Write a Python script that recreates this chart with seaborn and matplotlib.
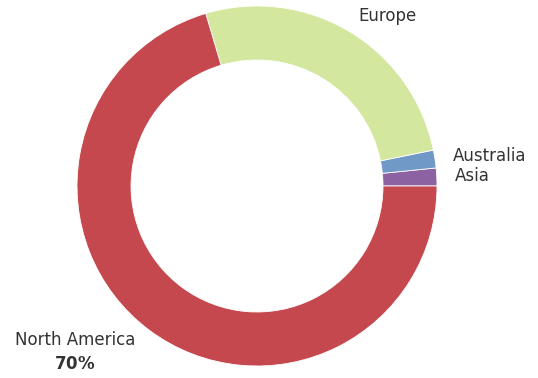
import matplotlib
matplotlib.use("Agg")
import matplotlib.pyplot as plt
import seaborn as sns

# Share of visitors by region
regions = ["Asia", "Australia", "Europe", "North America"]
shares = [1.6, 1.6, 26.4, 70.4]
colors = ["#8c62a3", "#7199c8", "#d4e79e", "#c4484e"]

sns.set_style("white")
plt.rcParams["font.family"] = ["DejaVu Sans"]
plt.rcParams["mathtext.fontset"] = "dejavusans"

fig = plt.figure(figsize=(5.38, 3.78), dpi=100)
ax = fig.add_axes([0, 0, 1, 1])

total = sum(shares)
labels = list(regions)
labels[-1] = f"{regions[-1]}\n$\\mathbf{{{shares[-1] / total * 100:.0f}\\%}}$"

wedges, texts = ax.pie(
    shares,
    labels=labels,
    colors=sns.color_palette(colors),
    startangle=0,
    counterclock=True,
    radius=1.0,
    labeldistance=1.1,
    wedgeprops=dict(width=0.3, edgecolor="white", linewidth=0.6),
    textprops=dict(fontsize=12, color="#333333"),
)

# the two-line region label sits a little lower, with its lines centred
na = texts[-1]
na.set_multialignment("center")
na.set_linespacing(1.45)
x, y = na.get_position()
na.set_position((x - 0.02, y - 0.04))

ax.set_xlim(-257 / 180, (538 - 257) / 180)
ax.set_ylim(-(378 - 186) / 180, 186 / 180)
ax.set_aspect("auto")
ax.axis("off")

fig.savefig("out.png", dpi=100)
